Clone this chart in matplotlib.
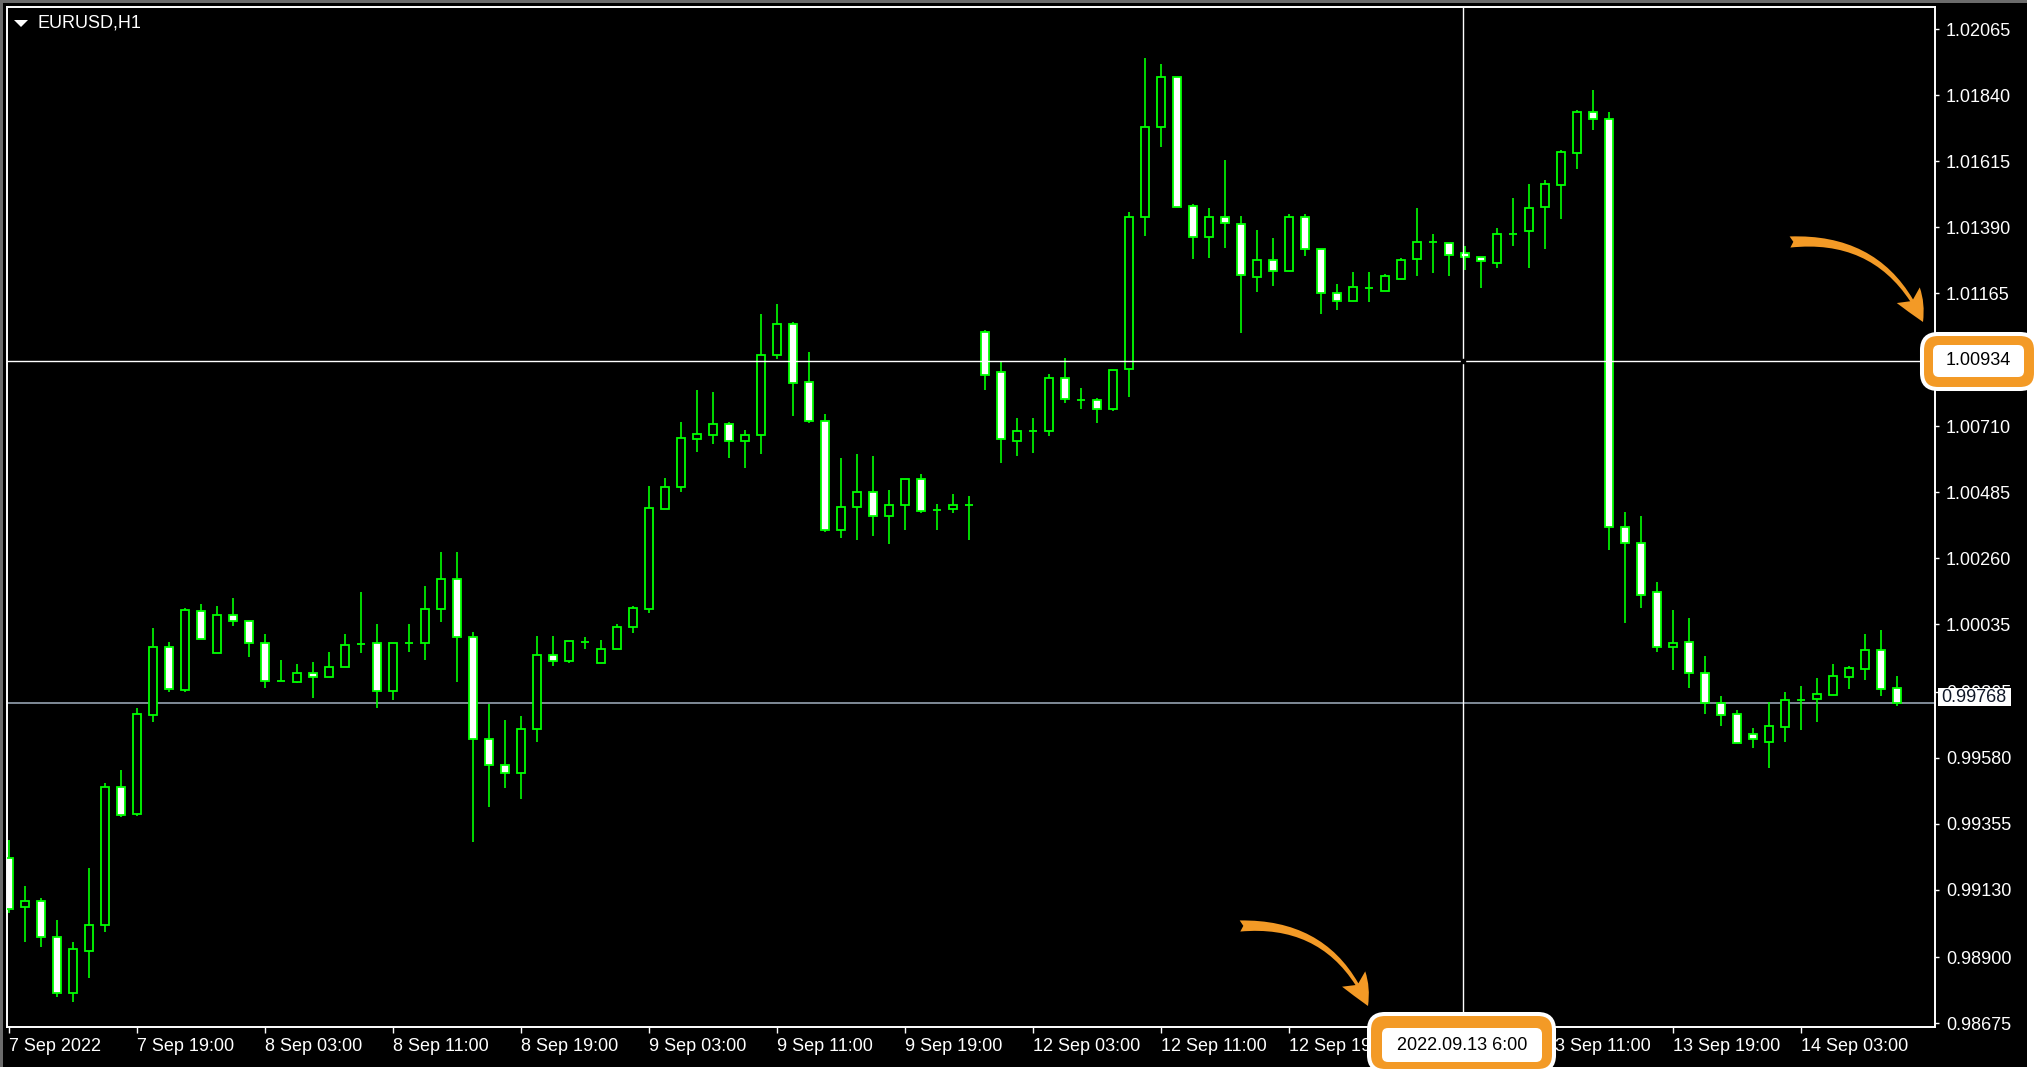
import numpy as np
import matplotlib
matplotlib.use('Agg')
from matplotlib import pyplot as plt
from matplotlib.patches import Rectangle, FancyBboxPatch, FancyArrowPatch, Polygon
from matplotlib.transforms import IdentityTransform

plt.rcParams['font.family'] = ['Liberation Sans', 'DejaVu Sans']

# EURUSD H1, 7 Sep 2022 11:00 .. 14 Sep 2022 09:00
opens = [0.99238, 0.99070, 0.99093, 0.98970, 0.98777, 0.98922, 0.99010, 0.99481, 0.99390, 0.99726,
         0.99959, 0.99813, 1.00082, 0.99937, 1.00067, 1.00048, 0.99973, 0.99842, 0.99840, 0.99871,
         0.99856, 0.99890, 0.99968, 0.99971, 0.99809, 0.99972, 0.99972, 1.00088, 1.00190, 0.99992,
         0.99644, 0.99556, 0.99528, 0.99679, 0.99931, 0.99910, 0.99976, 0.99904, 0.99951, 1.00025,
         1.00088, 1.00429, 1.00503, 1.00667, 1.00680, 1.00717, 1.00660, 1.00680, 1.00954, 1.01058,
         1.00861, 1.00730, 1.00358, 1.00434, 1.00485, 1.00406, 1.00441, 1.00532, 1.00426, 1.00429,
         1.00442, 1.01031, 1.00894, 1.00660, 1.00696, 1.00695, 1.00874, 1.00801, 1.00800, 1.00770,
         1.00906, 1.01425, 1.01732, 1.01903, 1.01462, 1.01355, 1.01425, 1.01399, 1.01218, 1.01276,
         1.01241, 1.01425, 1.01316, 1.01166, 1.01138, 1.01183, 1.01173, 1.01213, 1.01281, 1.01340,
         1.01337, 1.01303, 1.01289, 1.01267, 1.01367, 1.01376, 1.01457, 1.01532, 1.01642, 1.01781,
         1.01758, 1.00368, 1.00314, 1.00144, 0.99957, 0.99974, 0.99871, 0.99768, 0.99729, 0.99660,
         0.99635, 0.99684, 0.99777, 0.99780, 0.99793, 0.99855, 0.99882, 0.99947, 0.99817]
highs = [0.99300, 0.99143, 0.99101, 0.99027, 0.98951, 0.99203, 0.99496, 0.99539, 0.99749, 1.00022,
         0.99974, 1.00090, 1.00105, 1.00098, 1.00124, 1.00048, 1.00001, 0.99914, 0.99899, 0.99906,
         0.99940, 1.00002, 1.00145, 1.00035, 0.99972, 1.00035, 1.00166, 1.00282, 1.00282, 1.00008,
         0.99764, 0.99709, 0.99723, 0.99996, 0.99996, 0.99980, 0.99993, 0.99982, 1.00037, 1.00098,
         1.00507, 1.00533, 1.00725, 1.00834, 1.00828, 1.00724, 1.00697, 1.01094, 1.01128, 1.01065,
         1.00964, 1.00751, 1.00603, 1.00616, 1.00609, 1.00493, 1.00532, 1.00548, 1.00445, 1.00480,
         1.00473, 1.01039, 1.00931, 1.00738, 1.00738, 1.00888, 1.00942, 1.00840, 1.00806, 1.00901,
         1.01440, 1.01965, 1.01946, 1.01903, 1.01468, 1.01454, 1.01619, 1.01428, 1.01380, 1.01353,
         1.01434, 1.01434, 1.01316, 1.01195, 1.01237, 1.01237, 1.01229, 1.01283, 1.01454, 1.01366,
         1.01337, 1.01325, 1.01289, 1.01386, 1.01489, 1.01536, 1.01550, 1.01651, 1.01789, 1.01857,
         1.01781, 1.00417, 1.00404, 1.00179, 1.00084, 1.00057, 0.99927, 0.99791, 0.99743, 0.99681,
         0.99769, 0.99805, 0.99825, 0.99852, 0.99900, 0.99893, 1.00002, 1.00016, 0.99859]
lows = [0.99050, 0.98953, 0.98934, 0.98764, 0.98749, 0.98831, 0.98988, 0.99377, 0.99382, 0.99703,
        0.99806, 0.99806, 0.99985, 0.99937, 1.00031, 0.99923, 0.99819, 0.99842, 0.99834, 0.99785,
        0.99856, 0.99890, 0.99937, 0.99751, 0.99777, 0.99942, 0.99914, 1.00045, 0.99840, 0.99294,
        0.99411, 0.99479, 0.99439, 0.99635, 0.99895, 0.99902, 0.99950, 0.99903, 0.99951, 1.00005,
        1.00073, 1.00429, 1.00488, 1.00624, 1.00651, 1.00604, 1.00570, 1.00617, 1.00939, 1.00747,
        1.00721, 1.00351, 1.00330, 1.00323, 1.00337, 1.00309, 1.00358, 1.00414, 1.00358, 1.00414,
        1.00324, 1.00834, 1.00584, 1.00610, 1.00618, 1.00679, 1.00789, 1.00768, 1.00721, 1.00763,
        1.00809, 1.01361, 1.01662, 1.01459, 1.01280, 1.01286, 1.01320, 1.01028, 1.01170, 1.01189,
        1.01241, 1.01292, 1.01093, 1.01108, 1.01137, 1.01135, 1.01173, 1.01212, 1.01224, 1.01232,
        1.01224, 1.01245, 1.01183, 1.01251, 1.01326, 1.01251, 1.01314, 1.01416, 1.01587, 1.01721,
        1.00289, 1.00039, 1.00092, 0.99942, 0.99881, 0.99819, 0.99730, 0.99690, 0.99630, 0.99615,
        0.99547, 0.99635, 0.99675, 0.99704, 0.99793, 0.99814, 0.99847, 0.99792, 0.99758]
closes = [0.99064, 0.99093, 0.98968, 0.98777, 0.98930, 0.99010, 0.99481, 0.99384, 0.99728, 0.99959,
          0.99815, 1.00084, 0.99985, 1.00067, 1.00048, 0.99971, 0.99842, 0.99842, 0.99871, 0.99857,
          0.99891, 0.99966, 0.99970, 0.99809, 0.99972, 0.99972, 1.00088, 1.00190, 0.99992, 0.99644,
          0.99556, 0.99528, 0.99679, 0.99931, 0.99910, 0.99980, 0.99976, 0.99952, 1.00027, 1.00090,
          1.00431, 1.00505, 1.00670, 1.00683, 1.00717, 1.00661, 1.00682, 1.00954, 1.01058, 1.00858,
          1.00728, 1.00358, 1.00437, 1.00485, 1.00406, 1.00443, 1.00532, 1.00422, 1.00426, 1.00442,
          1.00442, 1.00886, 1.00667, 1.00696, 1.00696, 1.00874, 1.00804, 1.00801, 1.00770, 1.00901,
          1.01425, 1.01732, 1.01903, 1.01459, 1.01355, 1.01425, 1.01403, 1.01226, 1.01276, 1.01241,
          1.01425, 1.01315, 1.01164, 1.01138, 1.01187, 1.01183, 1.01223, 1.01276, 1.01338, 1.01340,
          1.01293, 1.01288, 1.01275, 1.01365, 1.01367, 1.01454, 1.01536, 1.01645, 1.01781, 1.01758,
          1.00366, 1.00312, 1.00135, 0.99957, 0.99973, 0.99868, 0.99768, 0.99725, 0.99631, 0.99644,
          0.99689, 0.99776, 0.99777, 0.99797, 0.99858, 0.99885, 0.99947, 0.99814, 0.99768]

time_labels = ['7 Sep 2022', '7 Sep 19:00', '8 Sep 03:00', '8 Sep 11:00', '8 Sep 19:00',
               '9 Sep 03:00', '9 Sep 11:00', '9 Sep 19:00', '12 Sep 03:00', '12 Sep 11:00',
               '12 Sep 19:00', '13 Sep 03:00', '13 Sep 11:00', '13 Sep 19:00', '14 Sep 03:00']
time_label_step = 8  # one label every 8 bars
price_ticks = [1.02065, 1.01840, 1.01615, 1.01390, 1.01165, 1.00710, 1.00485, 1.00260,
               1.00035, 0.99805, 0.99580, 0.99355, 0.99130, 0.98900, 0.98675]
bid_price = 0.99768
cross_price = 1.00934
cross_bar = 90.87
cross_time = '2022.09.13 6:00'
symbol = 'EURUSD,H1'

W, H = 2040, 1076
GREEN = '#00ff00'
ORANGE = '#f39a26'
FS = 13

fig = plt.figure(figsize=(W / 100, H / 100), dpi=100, facecolor='white')
px = IdentityTransform()

# black terminal window with grey frame on the left/top
fig.add_artist(Rectangle((0, H - 1067), 2027, 1067, facecolor='black', edgecolor='none',
                         transform=px, zorder=-10))
fig.add_artist(Rectangle((0, H - 1067), 3, 1067, facecolor='#6b6b6b', edgecolor='none',
                         transform=px, zorder=-9))
fig.add_artist(Rectangle((0, H - 3), 2027, 3, facecolor='#6b6b6b', edgecolor='none',
                         transform=px, zorder=-9))

ax = fig.add_axes([7 / W, (H - 1027) / H, (1935 - 7) / W, (1027 - 7) / H])
ax.set_facecolor('black')

x = np.arange(len(opens))
o = np.asarray(opens)
hi = np.asarray(highs)
lo = np.asarray(lows)
c = np.asarray(closes)
up = c >= o

ax.vlines(x, lo, hi, color=GREEN, lw=1.2, zorder=3)
ax.bar(x, np.abs(c - o), bottom=np.minimum(o, c), width=0.47,
       color=np.where(up, 'black', 'white'), edgecolor=GREEN, linewidth=1.3, zorder=4)

# bid line and crosshair
ax.axhline(bid_price, color='#8a96a3', lw=1.3, zorder=2)
ax.axhline(cross_price, color='white', lw=1.0, zorder=5)
ax.axvline(cross_bar, color='white', lw=1.0, zorder=5)
ax.plot([cross_bar], [cross_price], marker='s', ms=3, color='black', zorder=6)

ax.set_xlim(-0.125, 120.375)
ax.set_ylim(0.986625, 1.021401)

ax.set_xticks(np.arange(len(time_labels)) * time_label_step)
ax.set_xticklabels(time_labels, ha='left')
ax.set_yticks(price_ticks)
ax.set_yticklabels([f'{v:.5f}' for v in price_ticks])
ax.yaxis.tick_right()
ax.tick_params(axis='x', colors='white', length=4.3, width=1.0, pad=3.5, labelsize=FS)
ax.tick_params(axis='y', colors='white', length=3, width=1.0, pad=5, labelsize=FS)
for s in ax.spines.values():
    s.set_color('white')
    s.set_linewidth(1.4)

# symbol caption
fig.add_artist(Polygon([(14, H - 20), (28, H - 20), (21, H - 27)], closed=True,
                       facecolor='white', edgecolor='none', transform=px))
fig.text(38 / W, 1 - 23 / H, symbol, color='white', fontsize=FS, va='center', ha='left')

# bid price label
fig.add_artist(Rectangle((1938, H - 706), 73, 18, facecolor='white', edgecolor='none',
                         transform=px, zorder=2))
fig.text(1974 / W, 1 - 697 / H, f'{bid_price:.5f}', color='#101828', fontsize=FS,
         ha='center', va='center', zorder=3)

# highlighted crosshair price
fig.add_artist(FancyBboxPatch((1922, H - 389), 114, 55, boxstyle='round,pad=0,rounding_size=16',
                              facecolor=ORANGE, edgecolor='white', linewidth=2.9,
                              transform=px, zorder=2))
fig.add_artist(FancyBboxPatch((1933, H - 377), 91, 32, boxstyle='round,pad=0,rounding_size=6',
                              facecolor='white', edgecolor='none', transform=px, zorder=3))
fig.text(1978 / W, 1 - 361 / H, f'{cross_price:.5f}', color='black', fontsize=FS,
         ha='center', va='center', zorder=4)

# highlighted crosshair time
fig.add_artist(FancyBboxPatch((1369, H - 1071), 185, 57, boxstyle='round,pad=0,rounding_size=16',
                              facecolor=ORANGE, edgecolor='white', linewidth=2.9,
                              transform=px, zorder=2))
fig.add_artist(FancyBboxPatch((1382, H - 1062), 160, 34, boxstyle='round,pad=0,rounding_size=6',
                              facecolor='white', edgecolor='none', transform=px, zorder=3))
fig.text(1462 / W, 1 - 1045 / H, cross_time, color='black', fontsize=FS,
         ha='center', va='center', zorder=4)

# curved pointer arrows
for a, b in [((1790, H - 242), (1923, H - 322)), ((1240, H - 926), (1368, H - 1006))]:
    fig.add_artist(FancyArrowPatch(a, b, arrowstyle='fancy,head_length=2.2,head_width=2.0,tail_width=0.8',
                                   connectionstyle='arc3,rad=-0.35', mutation_scale=10,
                                   shrinkA=0, shrinkB=0, facecolor=ORANGE, edgecolor='none',
                                   transform=px, zorder=2))

fig.savefig('out.png', dpi=100, facecolor='white')
